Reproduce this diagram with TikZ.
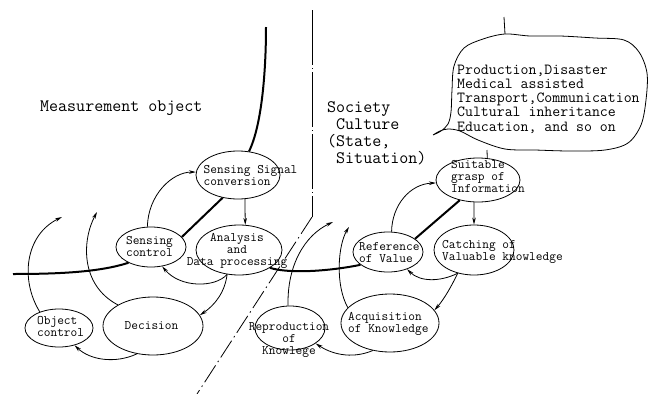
\documentclass[tikz,border=0pt]{standalone}
\usepackage{fontspec}
\usetikzlibrary{shapes.geometric,arrows.meta}
% multi-line text whose baseline is that of its first line
\newcommand\txtlines[2][l]{\begin{tabular}[t]{@{}#1@{}}#2\end{tabular}}

\begin{document}
\begin{tikzpicture}[x=1pt,y=-1pt,
  oval/.style={draw, ellipse, inner sep=0pt, line width=0.8pt},
  lbl/.style={inner sep=0pt, font=\ttfamily\fontsize{13}{12.2}\selectfont},
  big/.style={inner sep=0pt, font=\ttfamily\fontsize{17.5}{16.3}\selectfont},
  note/.style={inner sep=0pt, font=\ttfamily\fontsize{15.4}{14.3}\selectfont},
  link/.style={line width=0.8pt},
  flow/.style={line width=0.8pt, -{Stealth[length=7pt,width=3.6pt]}},
  heavy/.style={line width=2pt},
  divide/.style={line width=0.8pt, dash pattern=on 55pt off 3pt on 1pt off 3pt},
  divide2/.style={line width=0.8pt, dash pattern=on 20pt off 4pt on 1.5pt off 4pt}]

\useasboundingbox (0,0) rectangle (649,394);

% ---- free end points ----
\coordinate (mtop) at (266,27);
\coordinate (mleft) at (13,274);
\coordinate (c1) at (97,212);
\coordinate (c2) at (62,217);
\coordinate (c3) at (349,227);
\coordinate (c4) at (333,222);
\coordinate (bt) at (504,17);
\coordinate (bb0) at (505,34);
\coordinate (bb1) at (487,150);
\coordinate (dv1) at (312,10);
\coordinate (dv2) at (312,217);
\coordinate (dv3) at (197,394);

% ---- boundary between the two worlds ----
\draw[divide] (dv1) -- (dv2);
\draw[divide2] (dv2) -- (dv3);

% ---- ellipses ----
\node[oval, minimum width=84pt, minimum height=48pt] (ssc) at (238,175) {};
\node[oval, minimum width=86pt, minimum height=50pt] (adp) at (239,250) {};
\node[oval, minimum width=70pt, minimum height=40pt] (sc)  at (151,247) {};
\node[oval, minimum width=68pt, minimum height=38pt] (oc)  at (59,328) {};
\node[oval, minimum width=100pt, minimum height=58pt] (dec) at (153,326) {};
\node[oval, minimum width=84pt, minimum height=44pt] (sgi) at (478,180) {};
\node[oval, minimum width=80pt, minimum height=50pt] (cvk) at (474,250) {};
\node[oval, minimum width=70pt, minimum height=40pt] (rv)  at (388,252) {};
\node[oval, minimum width=98pt, minimum height=58pt] (ak)  at (390,323) {};
\node[oval, minimum width=70pt, minimum height=44pt] (rk)  at (290,328) {};

% ---- texts ----
\node[big, anchor=base west] (tmo) at (40,111) {Measurement object};
\node[big, anchor=base west] (tsc) at (327,112)
  {\txtlines{Society\\\phantom{(}Culture\\(State,\\\phantom{(}Situation)}};
\node[note, anchor=base west] (tbub) at (457,74)
  {\txtlines{Production,Disaster\\Medical assisted\\Transport,Communication\\Cultural inheritance\\Education, and so on}};

\node[lbl, anchor=base west] (tssc) at (203.5,173.3) {\txtlines{Sensing Signal\\conversion}};
\node[lbl, anchor=base] (tadp) at (237,241.5) {\txtlines[c]{Analysis\\and\\Data processing}};
\node[lbl, anchor=base] (tsc2) at (149.5,244) {\txtlines[c]{Sensing\\control}};
\node[lbl, anchor=base west] (toc) at (37,324) {\txtlines{Object\\control}};
\node[lbl, anchor=base] (tdec) at (151.5,329.5) {Decision};
\node[lbl, anchor=base west] (tsgi) at (451,168) {\txtlines{Suitable\\grasp of\\Information}};
\node[lbl, anchor=base west] (tcvk) at (442,248) {\txtlines{Catching of\\Valuable knowledge}};
\node[lbl, anchor=base west] (trv) at (359,250.5) {\txtlines{Reference\\of Value}};
\node[lbl, anchor=base west] (tak) at (348,320.5) {\txtlines{Acquisition\\of Knowledge}};
\node[lbl, anchor=base] (trk) at (289,330) {\txtlines[c]{Reproduction\\of\\Knowlege}};

% ---- speech bubble ----
\draw[link] (bt) -- (bb0);
\draw[link] plot[smooth, tension=0.55] coordinates {
  (433,135) (441,131) (448,124) (451,112) (452,90) (454,66) (464,48) (483,39)
  (505,34) (530,36) (560,36) (595,38) (624,40) (639,52) (647,73) (646,100)
  (641,125) (628,143) (605,150) (570,151) (535,150) (505,149) (478,140)
  (460,131) (448,129) (440,131) (433,135)};
\draw[link] (bb1) -- (sgi.67);

% ---- left cycle ----
\draw[heavy] (mtop) .. controls (266,70) and (262,125) .. (ssc.65);
\draw[flow] (sc.100) .. controls (148,195) and (172,172) .. (ssc.176);
\draw[heavy] (ssc.236) -- (sc.18);
\draw[flow] (ssc.286) -- (adp.76);
\draw[heavy] (mleft) .. controls (60,274) and (100,272) .. (sc.215);
\draw[flow] (adp.244) .. controls (215,288) and (180,288) .. (sc.-60);
\draw[flow] (adp.244) .. controls (225,292) and (215,305) .. (dec.13);
\draw[flow] (dec.240) .. controls (115,364) and (90,360) .. (oc.-48);
\draw[flow] (dec.149) .. controls (80,285) and (82,240) .. (c1);
\draw[flow] (oc.140) .. controls (20,280) and (25,235) .. (c2);

% ---- crossing to the right ----
\draw[heavy] (adp.-30) .. controls (290,274) and (330,271) .. (rv.205);

% ---- right cycle ----
\draw[flow] (rv.80) .. controls (392,205) and (410,184) .. (sgi.184);
\draw[heavy] (sgi.228) -- (rv.26);
\draw[flow] (sgi.260) -- (cvk.90);
\draw[flow] (cvk.235) .. controls (440,282) and (420,282) .. (rv.-42);
\draw[flow] (cvk.235) .. controls (452,285) and (445,298) .. (ak.16);
\draw[flow] (ak.238) .. controls (350,360) and (330,353) .. (rk.-31);
\draw[flow] (ak.160) .. controls (335,285) and (338,245) .. (c3);
\draw[flow] (rk.95) .. controls (287,265) and (305,235) .. (c4);

\end{tikzpicture}
\end{document}
